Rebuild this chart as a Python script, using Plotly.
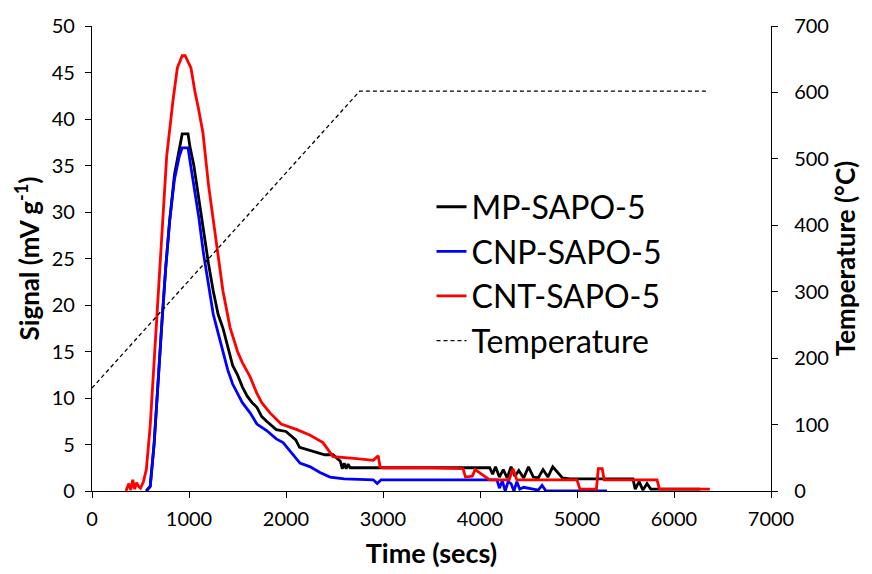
import plotly.graph_objects as go

# MP-SAPO-5 (black)
mp_t = [560, 600, 640, 680, 720, 760, 800, 850, 900, 930, 990, 1010, 1050, 1100, 1150, 1200, 1250, 1300, 1350,
        1400, 1450, 1500, 1550, 1600, 1650, 1700, 1750, 1800, 1850, 1900, 2000, 2100, 2140, 2200, 2300, 2400, 2485,
        2560, 2580, 2600, 2620, 2640, 2660, 2700, 3000, 3500, 4100, 4130, 4160, 4200, 4240, 4280, 4320, 4360, 4400,
        4450, 4500, 4550, 4600, 4650, 4700, 4750, 4800, 4850, 4930, 5200, 5577, 5600, 5640, 5680, 5722, 5760, 6000, 6270]
mp_v = [0, 0.5, 5, 12, 18, 24, 29, 34, 37, 38.4, 38.4, 37, 35, 31.5, 27.5, 24.5, 21.5, 19, 17.5,
        15.5, 13.5, 12.5, 11.2, 10.2, 9.5, 9, 8, 7.5, 7, 6.6, 6.4, 5.5, 4.7, 4.5, 4.2, 3.9, 3.9,
        3.2, 2.4, 3.0, 2.4, 2.9, 2.5, 2.5, 2.5, 2.5, 2.5, 1.8, 2.6, 1.5, 2.3, 1.4, 2.6, 1.6, 2.2,
        1.4, 2.6, 1.5, 1.4, 2.3, 1.5, 2.6, 2.0, 1.4, 1.3, 1.3, 1.3, 0.2, 1.0, 0.1, 0.8, 0.2, 0.2, 0.2]

# CNP-SAPO-5 (blue)
cnp_t = [560, 600, 640, 680, 720, 760, 800, 850, 900, 930, 990, 1010, 1050, 1100, 1150, 1200, 1250, 1300, 1350,
         1400, 1450, 1500, 1550, 1630, 1700, 1800, 1900, 1970, 2050, 2144, 2250, 2350, 2454, 2600, 2900, 2940,
         2980, 3500, 4175, 4200, 4230, 4260, 4290, 4320, 4350, 4380, 4410, 4450, 4500, 4600, 4640, 4680, 5310]
cnp_v = [0, 0.5, 5, 12, 18, 24, 29, 33.5, 36, 36.9, 36.9, 35.5, 33, 29.5, 25.5, 22, 19, 17, 15,
         13, 11.5, 10.5, 9.5, 8.4, 7.2, 6.5, 5.6, 5.2, 4.2, 3.0, 2.6, 2.0, 1.5, 1.3, 1.2, 0.8,
         1.2, 1.2, 1.2, 0.3, 1.1, 0.0, 1.0, 0.8, 0.0, 1.0, 0.2, 0.4, 0.3, 0.1, 0.6, 0.0, 0.0]

# CNT-SAPO-5 (red)
cnt_t = [350, 380, 400, 420, 440, 460, 480, 500, 530, 560, 600, 640, 670, 720, 770, 835, 880, 930, 960, 1020,
         1060, 1100, 1144, 1200, 1250, 1289, 1350, 1423, 1500, 1550, 1629, 1700, 1750, 1835, 1950, 2113, 2250,
         2381, 2485, 2700, 2900, 2950, 2970, 3000, 3500, 3825, 3850, 3920, 3950, 4100, 4300, 4340, 4380, 4720,
         5000, 5030, 5100, 5200, 5220, 5260, 5280, 5500, 5825, 5850, 6370]
cnt_v = [0, 0.8, 0.1, 1.2, 0.2, 0.9, 0.5, 0.3, 1.0, 2.3, 7, 14, 19.8, 28, 36, 42, 45.5, 46.8, 46.8, 45.5,
         43, 41, 38.5, 33, 29, 25.9, 21.5, 17.6, 15, 13.8, 12.3, 10.5, 9.5, 8.4, 7.2, 6.6, 6.0,
         5.2, 3.7, 3.5, 3.3, 3.8, 2.6, 2.5, 2.5, 2.4, 1.5, 1.6, 2.3, 1.2, 1.2, 2.4, 1.2, 1.2,
         1.2, 0.2, 0.2, 0.2, 2.4, 2.4, 1.2, 1.2, 1.2, 0.2, 0.2]

# Temperature (right axis)
temp_t = [0, 2760, 6330]
temp_v = [155, 602, 602]

font_family = "Lato, 'Open Sans', sans-serif"

fig = go.Figure()
fig.add_trace(go.Scatter(x=mp_t, y=mp_v, name="MP-SAPO-5", mode="lines",
                         line=dict(color="#000000", width=2.8)))
fig.add_trace(go.Scatter(x=cnp_t, y=cnp_v, name="CNP-SAPO-5", mode="lines",
                         line=dict(color="#0000ff", width=2.8)))
fig.add_trace(go.Scatter(x=cnt_t, y=cnt_v, name="CNT-SAPO-5", mode="lines",
                         line=dict(color="#ff0000", width=2.8)))
fig.add_trace(go.Scatter(x=temp_t, y=temp_v, name="Temperature", mode="lines", yaxis="y2",
                         line=dict(color="#000000", width=1.3, dash="4px,3px")))

axis_common = dict(showline=True, linecolor="#000000", linewidth=1.3, ticks="outside", ticklen=6,
                   tickcolor="#000000", tickwidth=1.3, showgrid=False, zeroline=False,
                   tickfont=dict(size=20, color="#000000", family=font_family))

fig.update_layout(
    width=872, height=574,
    margin=dict(l=92, r=101, t=26, b=83),
    paper_bgcolor="white", plot_bgcolor="white",
    font=dict(family=font_family, color="#000000"),
    xaxis=dict(range=[0, 7000], dtick=1000, tick0=0, ticklabelstandoff=4,
               title=dict(text="<b>Time (secs)</b>", font=dict(size=27), standoff=14),
               **axis_common),
    yaxis=dict(range=[0, 50], dtick=5, tick0=0, ticklabelstandoff=6,
               title=dict(text="<b>Signal (mV g<sup>-1</sup>)</b>", font=dict(size=26), standoff=4),
               **axis_common),
    yaxis2=dict(range=[0, 700], dtick=100, tick0=0, overlaying="y", side="right", ticklabelstandoff=12,
                title=dict(text="<b>Temperature (°C)</b>", font=dict(size=26), standoff=8),
                **axis_common),
    legend=dict(x=0.5, y=0.67, xanchor="left", yanchor="top", bgcolor="rgba(0,0,0,0)",
                font=dict(size=32, color="#000000", family=font_family),
                itemwidth=30, tracegroupgap=0),
    showlegend=True,
)

fig.write_html("out.html")
